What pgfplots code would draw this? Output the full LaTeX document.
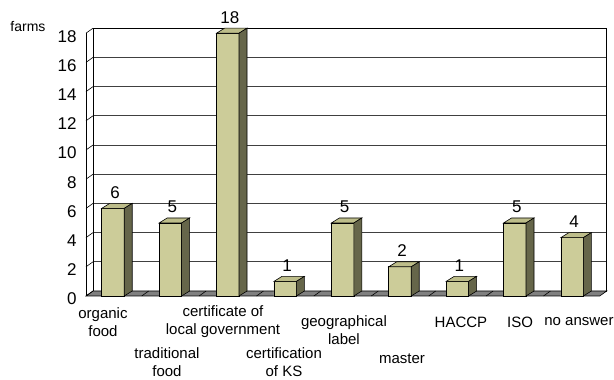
\documentclass[border=0pt]{standalone}
\usepackage{fontspec}
\setmainfont{Liberation Sans}
\usepackage{pgfplots}
\pgfplotsset{compat=1.18}
\definecolor{barfront}{HTML}{CCCC99}
\definecolor{bartop}{HTML}{BDBD8A}
\definecolor{barside}{HTML}{66664A}
\definecolor{floorgray}{HTML}{808080}

\pgfdeclareplotmark{barts}{%
  \pgfmathsetmacro\hh{-\rawy*14.6}%
  \pgfmathsetmacro\hb{5-\rawy*14.6}%
  \pgfpathmoveto{\pgfqpoint{-11.25pt}{0pt}}%
  \pgfpathlineto{\pgfqpoint{11.25pt}{0pt}}%
  \pgfpathlineto{\pgfqpoint{19.25pt}{5pt}}%
  \pgfpathlineto{\pgfqpoint{-3.25pt}{5pt}}%
  \pgfpathclose
  \pgfsetfillcolor{bartop}%
  \pgfusepathqfillstroke
  \pgfpathmoveto{\pgfqpoint{11.25pt}{0pt}}%
  \pgfpathlineto{\pgfqpoint{19.25pt}{5pt}}%
  \pgfpathlineto{\pgfqpoint{19.25pt}{\hb pt}}%
  \pgfpathlineto{\pgfqpoint{11.25pt}{\hh pt}}%
  \pgfpathclose
  \pgfsetfillcolor{barside}%
  \pgfusepathqfillstroke
}

\begin{document}
\begin{tikzpicture}
% back wall
\begin{axis}[
  at={(7pt,5pt)}, anchor=south west,
  x=57.4pt, y=14.6pt,
  xmin=-0.47, xmax=8.48, ymin=0, ymax=18,
  ytick={0,2,...,18},
  yticklabel style={text opacity=0, opacity=0},
  ymajorgrids, grid style={black!75, line width=0.6pt},
  major tick length=0pt,
  axis line style={black, line width=0.6pt},
  xtick={3.902}, xticklabels={{geographical\\label}},
  extra x ticks={4.913}, extra x tick labels={master},
  xticklabel style={align=center, anchor=center, yshift=-39.5pt, font=\fontsize{15}{18}\selectfont},
  extra x tick style={xticklabel style={yshift=-28.5pt}},
]
\end{axis}
% front
\begin{axis}[
  at={(0pt,0pt)}, anchor=south west,
  x=57.4pt, y=14.6pt,
  xmin=-0.47, xmax=8.48, ymin=0, ymax=18,
  clip=false,
  axis lines*=left,
  x axis line style={draw=none},
  y axis line style={-, black, line width=0.6pt},
  major tick length=0pt,
  ytick={0,2,...,18},
  /pgf/number format/assume math mode=true,
  yticklabel style={xshift=-6pt, yshift=-3pt, font=\fontsize{17}{20}\selectfont},
  xtick={-0.174,1.916,6.063,7.091,8.118},
  xticklabels={{organic\\food},{certificate of\\local government},HACCP,ISO,no answer},
  extra x ticks={0.941,2.979},
  extra x tick labels={{traditional\\food},{certification\\of KS}},
  xticklabel style={align=center, anchor=center, yshift=-26pt, font=\fontsize{15}{18}\selectfont},
  extra x tick style={xticklabel style={yshift=-40pt}},
  ylabel={farms},
  every axis y label/.style={at={(axis description cs:0,1)}, anchor=center, xshift=-58pt, yshift=7pt, font=\fontsize{14}{16}\selectfont},
]
\filldraw[fill=floorgray, draw=black, line width=0.6pt] (axis cs:-0.47,0) -- (axis cs:8.48,0) -- ++(7pt,5pt) -- ++(-513.73pt,0pt) -- cycle;
\pgfplotsinvokeforeach{0.5,1.5,2.5,3.5,4.5,5.5,6.5,7.5}{\draw[line width=0.6pt] (axis cs:#1,0) -- ++(7pt,5pt);}
\pgfplotsinvokeforeach{0,2,4,6,8,10,12,14,16,18}{\draw[line width=0.6pt] (axis cs:-0.47,#1) -- ++(7pt,5pt);}
\addplot[ybar, bar width=22.5pt, fill=barfront, draw=black, line width=0.6pt,
  nodes near coords,
  every node near coord/.append style={anchor=center, yshift=16pt, xshift=2pt, font=\fontsize{17}{20}\selectfont, black}]
  coordinates {(0,6)(1,5)(2,18)(3,1)(4,5)(5,2)(6,1)(7,5)(8,4)};
\addplot[only marks, mark=barts, draw=black, line width=0.6pt,
  visualization depends on={rawy \as \rawy}]
  coordinates {(0,6)(1,5)(2,18)(3,1)(4,5)(5,2)(6,1)(7,5)(8,4)};
\end{axis}
\pgfresetboundingbox
\path[use as bounding box] (-86pt,-84pt) rectangle (528pt,296pt);
\end{tikzpicture}
\end{document}
